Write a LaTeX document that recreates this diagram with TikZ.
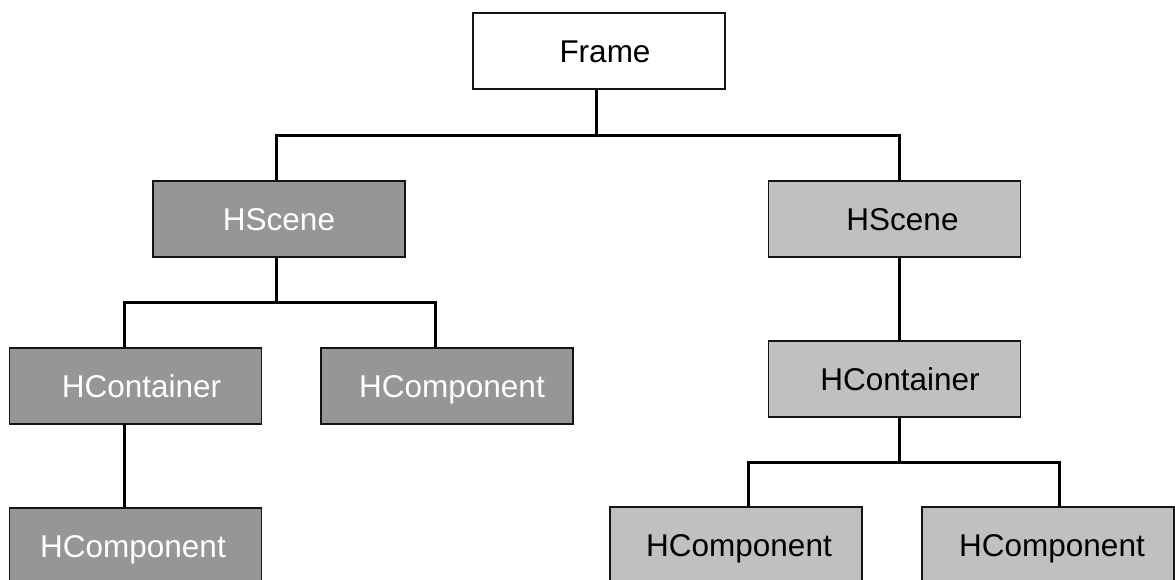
\documentclass[tikz,border=0pt]{standalone}
\usepackage{fontspec}
\setmainfont{Liberation Sans}
\definecolor{darkfill}{RGB}{150,150,150}
\definecolor{lightfill}{RGB}{192,192,192}
\definecolor{edge}{RGB}{20,20,20}
\begin{document}
\begin{tikzpicture}[x=1pt,y=-1pt,
  box/.style={draw=edge,line width=1.5pt,minimum width=252pt,minimum height=76pt,
    inner sep=0pt,font=\fontsize{31.5}{36}\selectfont,text height=22.6pt,text depth=0pt},
  plainbox/.style={box,fill=white,text=black},
  darkbox/.style={box,fill=darkfill,text=white},
  lightbox/.style={box,fill=lightfill,text=black},
  wire/.style={line width=3pt,draw=black}]

\clip (0,0) rectangle (1175,579);

% class boxes
\node[plainbox] (frame)   at (599,51)    {\hspace*{12pt}Frame};
\node[darkbox]  (sceneL)  at (279,219)   {HScene};
\node[lightbox] (sceneR)  at (894.5,219) {\hspace*{16pt}HScene};
\node[darkbox]  (contL)   at (135.5,386) {\hspace*{12pt}HContainer};
\node[darkbox]  (compM)   at (447,386)   {\hspace*{10pt}HComponent};
\node[lightbox] (contR)   at (894.5,379) {\hspace*{11pt}HContainer};
\node[darkbox]  (compBL)  at (135.5,546) {HComponent\hspace*{5pt}};
\node[lightbox] (compBR1) at (736,545)   {\hspace*{6pt}HComponent};
\node[lightbox] (compBR2) at (1048,545)  {\hspace*{8pt}HComponent};

% attachment points of the connectors
\coordinate (fA)  at ([xshift=-3pt]frame.south);
\coordinate (sLA) at ([xshift=-3pt]sceneL.north);
\coordinate (sLB) at ([xshift=-3pt]sceneL.south);
\coordinate (sRA) at ([xshift=4.5pt]sceneR.north);
\coordinate (sRB) at ([xshift=4.5pt]sceneR.south);
\coordinate (cLA) at ([xshift=-11.5pt]contL.north);
\coordinate (cLB) at ([xshift=-11.5pt]contL.south);
\coordinate (mA)  at ([xshift=-12pt]compM.north);
\coordinate (cRA) at ([xshift=4.5pt]contR.north);
\coordinate (cRB) at ([xshift=4.5pt]contR.south);
\coordinate (bLA) at ([xshift=-11.5pt]compBL.north);
\coordinate (r1A) at ([xshift=12pt]compBR1.north);
\coordinate (r2A) at ([xshift=11pt]compBR2.north);

% bus levels
\coordinate (busTop)   at (0,135);
\coordinate (busLeft)  at (0,302);
\coordinate (busRight) at (0,462);

% Frame -> two scenes
\draw[wire] (fA) -- (fA |- busTop);
\draw[wire] (sLA) -- (sLA |- busTop) -- (sRA |- busTop) -- (sRA);

% left scene -> container and component
\draw[wire] (sLB) -- (sLB |- busLeft);
\draw[wire] (cLA) -- (cLA |- busLeft) -- (mA |- busLeft) -- (mA);

% left container -> component
\draw[wire] (cLB) -- (bLA);

% right scene -> container
\draw[wire] (sRB) -- (cRA);

% right container -> two components
\draw[wire] (cRB) -- (cRB |- busRight);
\draw[wire] (r1A) -- (r1A |- busRight) -- (r2A |- busRight) -- (r2A);

\end{tikzpicture}
\end{document}
